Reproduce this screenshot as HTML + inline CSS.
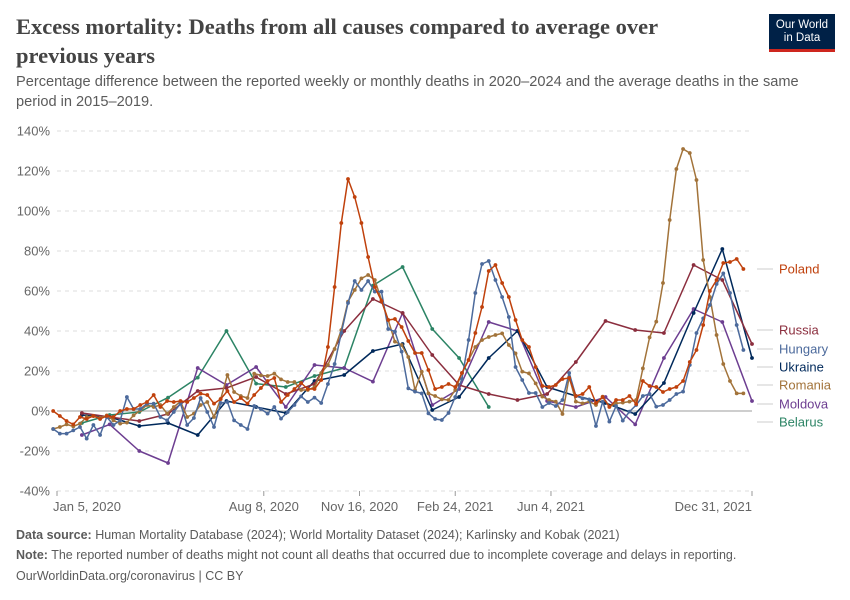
<!DOCTYPE html>
<html><head><meta charset="utf-8"><style>
body{margin:0;background:#fff;font-family:"Liberation Sans",sans-serif;}
#wrap{position:relative;width:850px;height:600px;overflow:hidden;}
.t{position:absolute;white-space:nowrap;}
</style></head><body>
<div id="wrap">
<div class="t" style="left:16px;top:12px;font-family:'Liberation Serif',serif;font-weight:bold;font-size:22.5px;line-height:29px;color:#444;white-space:normal;width:700px;">Excess mortality: Deaths from all causes compared to average over previous years</div>
<div class="t" style="left:16px;top:73px;font-size:14.6px;line-height:19.5px;color:#5b5b5b;white-space:normal;width:800px;">Percentage difference between the reported weekly or monthly deaths in 2020–2024 and the average deaths in the same period in 2015–2019.</div>
<div style="position:absolute;left:769px;top:14px;width:66px;height:38px;background:#002147;border-bottom:3px solid #ce261e;box-sizing:border-box;color:#fff;font-size:11.5px;line-height:13px;text-align:center;padding-top:5px;">Our World<br>in Data</div>
<svg id="chart" width="850" height="600" style="position:absolute;left:0;top:0"></svg>
<div class="t" style="left:16px;top:528px;font-size:12.5px;color:#5b5b5b;"><b>Data source:</b> Human Mortality Database (2024); World Mortality Dataset (2024); Karlinsky and Kobak (2021)</div>
<div class="t" style="left:16px;top:548px;font-size:12.5px;color:#5b5b5b;"><b>Note:</b> The reported number of deaths might not count all deaths that occurred due to incomplete coverage and delays in reporting.</div>
<div class="t" style="left:16px;top:569px;font-size:12.5px;color:#5b5b5b;">OurWorldinData.org/coronavirus | CC BY</div>
</div>
<script>
const yTicks=[-40,-20,0,20,40,60,80,100,120,140];
const xTickLabels=["Jan 5, 2020","Aug 8, 2020","Nov 16, 2020","Feb 24, 2021","Jun 4, 2021","Dec 31, 2021"];
const xTickDays=[0,216,316,416,516,726];
const polandWeekly=[0,-2.5,-5,-6.7,-3,-4,-2.5,-4,-2.5,-3,0,1,1,3,4.5,8,2,5,4.5,5,4.5,6.5,8.7,8,3.7,6,10,4.5,6.5,3.7,8,11.5,15,16.5,4.5,8,11,14,11,11,
15.5,32,62,94,116,107,94,77,62,55,45.5,46,42,35,29,29,20.5,11,12,13.5,12,19,25.5,39,52,70,73,64,57,45.5,35.5,32,22,12.5,12,13,
16,16.5,7.5,8.5,12,4,7,2,5.5,5.5,7.5,3.5,15,12.5,12,9.5,11,12,15,24.5,30.5,43,60,65.5,74,74.5,76,71];
const hungaryWeekly=[-9,-11.3,-11.3,-9.7,-8,-13.8,-7,-12,-3,-7,-4.7,7,1,1,3.7,3.7,-3,-4.7,-0.5,3.7,-7,-3.5,6.5,-0.5,-8,4,4.5,-4.7,-7,-9,2.5,1,-1.3,2,-3.8,-0.5,3,7.3,4.5,6.7,
4,13.5,23.5,39,54,65,60.5,65,59.7,59.7,41,39.7,29.7,11.3,9.7,8.8,-1.2,-4,-4.5,-1,7,16,35.5,59,73.5,75,65.5,57,47,22,15.5,9,9,2,4,2.5,
5.5,19,7.5,6.3,5.8,-7.5,4.7,-5.3,2.5,-4.8,-0.3,3,7.5,8.5,2.2,3,5.5,8.5,9.7,23,39,46.3,53,63.5,68.8,59,43,30.5];
const romaniaWeekly=[-9,-8,-6.7,-7.7,-6.3,-3,-2.5,-3.5,-2.2,-4.7,-6.3,-5.8,-2.2,0.3,3,2,3,-1.3,2,4.8,-3,-1.3,3,4.5,-3,6,18,9.5,7.5,6.5,18.7,17.8,17.5,18.7,15.8,14.5,14.5,10.5,10.5,12,
19,23,31,40.5,54.7,60.5,66.3,68,65.5,55.5,45.5,34.7,33,27,10.5,19.7,8.8,7.5,5.8,5.5,10.5,19,25.5,32,35.5,37,38,38.8,33,28.8,19.7,18.8,13.8,7.2,5.5,4.7,
-1.5,17,4.7,3.8,4.7,3,7.2,2.2,3.8,4.2,4.7,5.5,21.3,36.8,44.7,64,95.5,121,131,129,115.5,75.5,57,38,23.5,15,8.8,8.8];
const russiaMonthly=[-1,-3,-5,-1.5,10,11.5,17,8.5,13.5,40,56,49,28,13,8.5,5.5,8.5,24.5,45,40.5,39,73,65.5,33.5];
const ukraineMonthly=[-2,-3,-7.5,-6,-12,5,2,-1,15,18,30,33.5,0.5,7,26.5,40,12,7.5,4,-1.5,14,49,81,26.5];
const moldovaMonthly=[-12,-6.7,-20,-26,21.5,13,22,2,23,21.5,14.7,49,3,11,44.5,40,5,2,7,-6.7,26.5,51,44.5,5];
const belarusMonthly=[-6,-2,-0.5,6.7,16.7,40,13.7,12,17.5,21.5,62.7,72,41,26.5,2];
const seriesNames=["Poland","Russia","Hungary","Ukraine","Romania","Moldova","Belarus"];
const seriesColors=["#c0410c","#8b2e3e","#4c6a9c","#00295b","#a2733a","#6d3e91","#2c8465"];
const labelY=[269,330,349,367,385,404,422];

const NS="http://www.w3.org/2000/svg";
const svg=document.getElementById('chart');
const X0=57,PXD=(752-57)/726;
const xs=d=>X0+d*PXD;
const ys=v=>411-v*2;
function mk(tag,attrs,parent){const e=document.createElementNS(NS,tag);for(const k in attrs)e.setAttribute(k,attrs[k]);(parent||svg).appendChild(e);return e;}
yTicks.forEach(v=>{
  const g=mk('line',{x1:57,x2:752,y1:ys(v),y2:ys(v),stroke:v===0?'#b0b0b0':'#dddddd','stroke-width':v===0?1.3:1,'stroke-dasharray':v===0?'':'4,4'});
  
  
  const t=mk('text',{x:50,y:ys(v)+4.5,'text-anchor':'end','font-size':13,fill:'#666','font-family':'Liberation Sans, sans-serif'});
  t.textContent=v+'%';
  
  
});
xTickDays.forEach((d,i)=>{
  const x=xs(d);
  const tk=mk('line',{x1:x,x2:x,y1:491,y2:496,stroke:'#999'});
  
  
  const anchor=i===0?'start':(i===xTickDays.length-1?'end':'middle');
  const t=mk('text',{x:i===0?x-4:x,y:511,'text-anchor':anchor,'font-size':13,fill:'#666','font-family':'Liberation Sans, sans-serif'});
  t.textContent=xTickLabels[i];
  
  
});
function weeklyDays(n){const a=[];for(let i=0;i<n;i++)a.push(-4+7*i);return a;}
function monthlyDays(n){const a=[];const base=Date.UTC(2020,0,5);for(let m=0;m<n;m++){const d=Date.UTC(2020,m+1,0);a.push((d-base)/864e5);}return a;}
const seriesData=[
 [weeklyDays(polandWeekly.length),polandWeekly],
 [monthlyDays(russiaMonthly.length),russiaMonthly],
 [weeklyDays(hungaryWeekly.length),hungaryWeekly],
 [monthlyDays(ukraineMonthly.length),ukraineMonthly],
 [weeklyDays(romaniaWeekly.length),romaniaWeekly],
 [monthlyDays(moldovaMonthly.length),moldovaMonthly],
 [monthlyDays(belarusMonthly.length),belarusMonthly]];
const order=[6,5,3,1,4,2,0];
order.forEach(si=>{
  const [days,vals]=seriesData[si];const c=seriesColors[si];
  const g=mk('g',{});
  
  
  const pts=days.map((d,i)=>xs(d).toFixed(1)+','+ys(vals[i]).toFixed(1)).join(' ');
  const pl=mk('polyline',{points:pts,fill:'none',stroke:c,'stroke-width':1.5,'stroke-linejoin':'round'},g);
  
  
  days.forEach((d,i)=>{
    const p=mk('circle',{cx:xs(d),cy:ys(vals[i]),r:1.9,fill:c},g);
    
    
  });
});
seriesNames.forEach((n,si)=>{
  const ly=labelY[si];
  const con=mk('line',{x1:757,x2:773,y1:ly,y2:ly,stroke:'#ccc','stroke-width':1});
  
  
  const t=mk('text',{x:779,y:ly+4.5,'font-size':13,fill:seriesColors[si],'font-family':'Liberation Sans, sans-serif'});
  t.textContent=n;
  
  
});
</script>
</body></html>
